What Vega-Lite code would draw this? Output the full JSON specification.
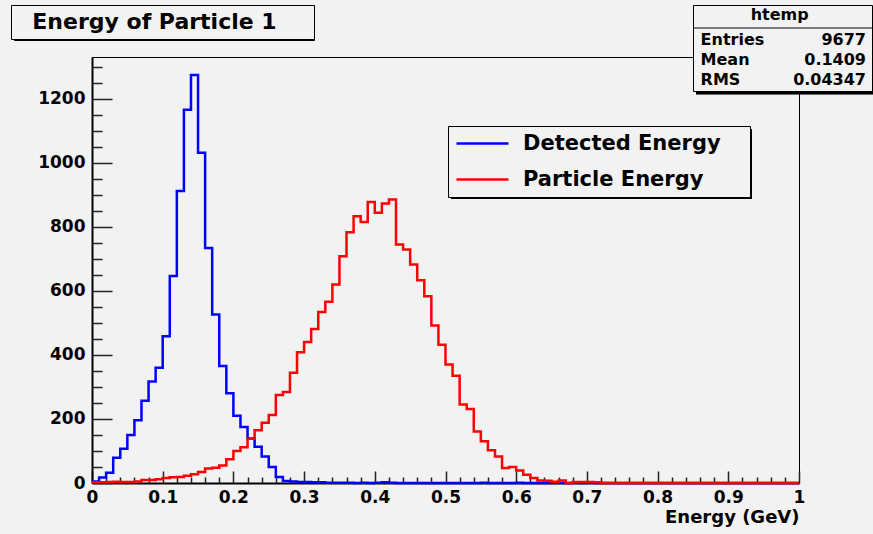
{
"$schema": "https://vega.github.io/schema/vega-lite/v6.json",
"width": 707, "height": 426, "autosize": "none",
"padding": {"left": 92, "top": 57, "right": 74, "bottom": 51},
"background": "#f2f2f2",
"config": {
  "font": "DejaVu Sans",
  "view": {"stroke": "#000000", "strokeWidth": 1},
  "axis": {"labelFont": "DejaVu Sans", "labelFontSize": 17, "labelFontWeight": "bold", "labelColor": "#000000", "grid": false, "tickColor": "#222222", "tickWidth": 1.5, "domainColor": "#000000", "labelOverlap": false, "labelFlush": false},
  "legend": {"labelFont": "DejaVu Sans", "labelFontWeight": "bold", "labelColor": "#000000", "labelLimit": 600, "titleLimit": 600}
},
"datasets": {
"hist": [
{"energy":0.00,"count":5,"series":"Detected Energy"},{"energy":0.01,"count":17,"series":"Detected Energy"},{"energy":0.02,"count":32,"series":"Detected Energy"},{"energy":0.03,"count":79,"series":"Detected Energy"},{"energy":0.04,"count":107,"series":"Detected Energy"},{"energy":0.05,"count":150,"series":"Detected Energy"},{"energy":0.06,"count":196,"series":"Detected Energy"},{"energy":0.07,"count":257,"series":"Detected Energy"},{"energy":0.08,"count":317,"series":"Detected Energy"},{"energy":0.09,"count":360,"series":"Detected Energy"},
{"energy":0.10,"count":458,"series":"Detected Energy"},{"energy":0.11,"count":646,"series":"Detected Energy"},{"energy":0.12,"count":912,"series":"Detected Energy"},{"energy":0.13,"count":1165,"series":"Detected Energy"},{"energy":0.14,"count":1274,"series":"Detected Energy"},{"energy":0.15,"count":1031,"series":"Detected Energy"},{"energy":0.16,"count":734,"series":"Detected Energy"},{"energy":0.17,"count":526,"series":"Detected Energy"},{"energy":0.18,"count":365,"series":"Detected Energy"},{"energy":0.19,"count":280,"series":"Detected Energy"},
{"energy":0.20,"count":210,"series":"Detected Energy"},{"energy":0.21,"count":175,"series":"Detected Energy"},{"energy":0.22,"count":139,"series":"Detected Energy"},{"energy":0.23,"count":113,"series":"Detected Energy"},{"energy":0.24,"count":83,"series":"Detected Energy"},{"energy":0.25,"count":50,"series":"Detected Energy"},{"energy":0.26,"count":19,"series":"Detected Energy"},{"energy":0.27,"count":6,"series":"Detected Energy"},{"energy":0.28,"count":5,"series":"Detected Energy"},{"energy":0.29,"count":3,"series":"Detected Energy"},
{"energy":0.30,"count":3,"series":"Detected Energy"},{"energy":0.31,"count":2,"series":"Detected Energy"},{"energy":0.32,"count":2,"series":"Detected Energy"},{"energy":0.33,"count":1,"series":"Detected Energy"},{"energy":0.34,"count":1,"series":"Detected Energy"},{"energy":0.35,"count":1,"series":"Detected Energy"},{"energy":0.36,"count":1,"series":"Detected Energy"},{"energy":0.37,"count":0,"series":"Detected Energy"},{"energy":0.38,"count":1,"series":"Detected Energy"},{"energy":0.39,"count":0,"series":"Detected Energy"},
{"energy":0.40,"count":1,"series":"Detected Energy"},{"energy":0.41,"count":2,"series":"Detected Energy"},{"energy":0.42,"count":1,"series":"Detected Energy"},{"energy":0.43,"count":0,"series":"Detected Energy"},{"energy":0.44,"count":0,"series":"Detected Energy"},{"energy":0.45,"count":0,"series":"Detected Energy"},{"energy":0.46,"count":0,"series":"Detected Energy"},{"energy":0.47,"count":0,"series":"Detected Energy"},{"energy":0.48,"count":0,"series":"Detected Energy"},{"energy":0.49,"count":0,"series":"Detected Energy"},
{"energy":0.50,"count":0,"series":"Detected Energy"},{"energy":0.51,"count":0,"series":"Detected Energy"},{"energy":0.52,"count":0,"series":"Detected Energy"},{"energy":0.53,"count":0,"series":"Detected Energy"},{"energy":0.54,"count":0,"series":"Detected Energy"},{"energy":0.55,"count":1,"series":"Detected Energy"},{"energy":0.56,"count":0,"series":"Detected Energy"},{"energy":0.57,"count":0,"series":"Detected Energy"},{"energy":0.58,"count":0,"series":"Detected Energy"},{"energy":0.59,"count":0,"series":"Detected Energy"},
{"energy":0.60,"count":1,"series":"Detected Energy"},{"energy":0.61,"count":0,"series":"Detected Energy"},{"energy":0.62,"count":0,"series":"Detected Energy"},{"energy":0.63,"count":0,"series":"Detected Energy"},{"energy":0.64,"count":0,"series":"Detected Energy"},{"energy":0.65,"count":0,"series":"Detected Energy"},{"energy":0.66,"count":0,"series":"Detected Energy"},{"energy":0.67,"count":0,"series":"Detected Energy"},{"energy":0.68,"count":1,"series":"Detected Energy"},{"energy":0.69,"count":0,"series":"Detected Energy"},
{"energy":0.70,"count":1,"series":"Detected Energy"},{"energy":0.71,"count":0,"series":"Detected Energy"},{"energy":0.72,"count":0,"series":"Detected Energy"},{"energy":0.73,"count":0,"series":"Detected Energy"},{"energy":0.74,"count":0,"series":"Detected Energy"},{"energy":0.75,"count":0,"series":"Detected Energy"},{"energy":0.76,"count":0,"series":"Detected Energy"},{"energy":0.77,"count":0,"series":"Detected Energy"},{"energy":0.78,"count":0,"series":"Detected Energy"},{"energy":0.79,"count":0,"series":"Detected Energy"},
{"energy":0.80,"count":0,"series":"Detected Energy"},{"energy":0.81,"count":0,"series":"Detected Energy"},{"energy":0.82,"count":0,"series":"Detected Energy"},{"energy":0.83,"count":0,"series":"Detected Energy"},{"energy":0.84,"count":0,"series":"Detected Energy"},{"energy":0.85,"count":0,"series":"Detected Energy"},{"energy":0.86,"count":0,"series":"Detected Energy"},{"energy":0.87,"count":0,"series":"Detected Energy"},{"energy":0.88,"count":0,"series":"Detected Energy"},{"energy":0.89,"count":0,"series":"Detected Energy"},
{"energy":0.90,"count":0,"series":"Detected Energy"},{"energy":0.91,"count":0,"series":"Detected Energy"},{"energy":0.92,"count":0,"series":"Detected Energy"},{"energy":0.93,"count":0,"series":"Detected Energy"},{"energy":0.94,"count":0,"series":"Detected Energy"},{"energy":0.95,"count":0,"series":"Detected Energy"},{"energy":0.96,"count":0,"series":"Detected Energy"},{"energy":0.97,"count":0,"series":"Detected Energy"},{"energy":0.98,"count":0,"series":"Detected Energy"},{"energy":0.99,"count":0,"series":"Detected Energy"},
{"energy":1.00,"count":0,"series":"Detected Energy"},
{"energy":0.00,"count":2,"series":"Particle Energy"},{"energy":0.01,"count":2,"series":"Particle Energy"},{"energy":0.02,"count":3,"series":"Particle Energy"},{"energy":0.03,"count":4,"series":"Particle Energy"},{"energy":0.04,"count":3,"series":"Particle Energy"},{"energy":0.05,"count":3,"series":"Particle Energy"},{"energy":0.06,"count":5,"series":"Particle Energy"},{"energy":0.07,"count":9,"series":"Particle Energy"},{"energy":0.08,"count":9,"series":"Particle Energy"},{"energy":0.09,"count":12,"series":"Particle Energy"},
{"energy":0.10,"count":16,"series":"Particle Energy"},{"energy":0.11,"count":18,"series":"Particle Energy"},{"energy":0.12,"count":19,"series":"Particle Energy"},{"energy":0.13,"count":23,"series":"Particle Energy"},{"energy":0.14,"count":27,"series":"Particle Energy"},{"energy":0.15,"count":34,"series":"Particle Energy"},{"energy":0.16,"count":45,"series":"Particle Energy"},{"energy":0.17,"count":48,"series":"Particle Energy"},{"energy":0.18,"count":55,"series":"Particle Energy"},{"energy":0.19,"count":74,"series":"Particle Energy"},
{"energy":0.20,"count":100,"series":"Particle Energy"},{"energy":0.21,"count":112,"series":"Particle Energy"},{"energy":0.22,"count":138,"series":"Particle Energy"},{"energy":0.23,"count":165,"series":"Particle Energy"},{"energy":0.24,"count":188,"series":"Particle Energy"},{"energy":0.25,"count":212,"series":"Particle Energy"},{"energy":0.26,"count":275,"series":"Particle Energy"},{"energy":0.27,"count":284,"series":"Particle Energy"},{"energy":0.28,"count":344,"series":"Particle Energy"},{"energy":0.29,"count":408,"series":"Particle Energy"},
{"energy":0.30,"count":440,"series":"Particle Energy"},{"energy":0.31,"count":481,"series":"Particle Energy"},{"energy":0.32,"count":534,"series":"Particle Energy"},{"energy":0.33,"count":566,"series":"Particle Energy"},{"energy":0.34,"count":620,"series":"Particle Energy"},{"energy":0.35,"count":708,"series":"Particle Energy"},{"energy":0.36,"count":783,"series":"Particle Energy"},{"energy":0.37,"count":833,"series":"Particle Energy"},{"energy":0.38,"count":815,"series":"Particle Energy"},{"energy":0.39,"count":877,"series":"Particle Energy"},
{"energy":0.40,"count":844,"series":"Particle Energy"},{"energy":0.41,"count":873,"series":"Particle Energy"},{"energy":0.42,"count":885,"series":"Particle Energy"},{"energy":0.43,"count":745,"series":"Particle Energy"},{"energy":0.44,"count":729,"series":"Particle Energy"},{"energy":0.45,"count":682,"series":"Particle Energy"},{"energy":0.46,"count":633,"series":"Particle Energy"},{"energy":0.47,"count":583,"series":"Particle Energy"},{"energy":0.48,"count":492,"series":"Particle Energy"},{"energy":0.49,"count":432,"series":"Particle Energy"},
{"energy":0.50,"count":370,"series":"Particle Energy"},{"energy":0.51,"count":335,"series":"Particle Energy"},{"energy":0.52,"count":245,"series":"Particle Energy"},{"energy":0.53,"count":231,"series":"Particle Energy"},{"energy":0.54,"count":161,"series":"Particle Energy"},{"energy":0.55,"count":130,"series":"Particle Energy"},{"energy":0.56,"count":102,"series":"Particle Energy"},{"energy":0.57,"count":83,"series":"Particle Energy"},{"energy":0.58,"count":47,"series":"Particle Energy"},{"energy":0.59,"count":50,"series":"Particle Energy"},
{"energy":0.60,"count":39,"series":"Particle Energy"},{"energy":0.61,"count":26,"series":"Particle Energy"},{"energy":0.62,"count":16,"series":"Particle Energy"},{"energy":0.63,"count":8,"series":"Particle Energy"},{"energy":0.64,"count":7,"series":"Particle Energy"},{"energy":0.65,"count":4,"series":"Particle Energy"},{"energy":0.66,"count":8,"series":"Particle Energy"},{"energy":0.67,"count":0,"series":"Particle Energy"},{"energy":0.68,"count":3,"series":"Particle Energy"},{"energy":0.69,"count":3,"series":"Particle Energy"},
{"energy":0.70,"count":3,"series":"Particle Energy"},{"energy":0.71,"count":2,"series":"Particle Energy"},{"energy":0.72,"count":0,"series":"Particle Energy"},{"energy":0.73,"count":0,"series":"Particle Energy"},{"energy":0.74,"count":0,"series":"Particle Energy"},{"energy":0.75,"count":0,"series":"Particle Energy"},{"energy":0.76,"count":0,"series":"Particle Energy"},{"energy":0.77,"count":0,"series":"Particle Energy"},{"energy":0.78,"count":0,"series":"Particle Energy"},{"energy":0.79,"count":0,"series":"Particle Energy"},
{"energy":0.80,"count":0,"series":"Particle Energy"},{"energy":0.81,"count":0,"series":"Particle Energy"},{"energy":0.82,"count":0,"series":"Particle Energy"},{"energy":0.83,"count":0,"series":"Particle Energy"},{"energy":0.84,"count":0,"series":"Particle Energy"},{"energy":0.85,"count":0,"series":"Particle Energy"},{"energy":0.86,"count":0,"series":"Particle Energy"},{"energy":0.87,"count":0,"series":"Particle Energy"},{"energy":0.88,"count":0,"series":"Particle Energy"},{"energy":0.89,"count":0,"series":"Particle Energy"},
{"energy":0.90,"count":0,"series":"Particle Energy"},{"energy":0.91,"count":0,"series":"Particle Energy"},{"energy":0.92,"count":0,"series":"Particle Energy"},{"energy":0.93,"count":0,"series":"Particle Energy"},{"energy":0.94,"count":0,"series":"Particle Energy"},{"energy":0.95,"count":0,"series":"Particle Energy"},{"energy":0.96,"count":0,"series":"Particle Energy"},{"energy":0.97,"count":0,"series":"Particle Energy"},{"energy":0.98,"count":0,"series":"Particle Energy"},{"energy":0.99,"count":0,"series":"Particle Energy"},
{"energy":1.00,"count":0,"series":"Particle Energy"}
],
"stats": [{"stat":"Entries","val":"9677"},{"stat":"Mean","val":"0.1409"},{"stat":"RMS","val":"0.04347"}],
"head": [{"name":"htemp"}],
"ttl": [{"title":"Energy of Particle 1"}]
},
"layer": [
{
  "data": {"name": "hist"},
  "mark": {"type": "line", "interpolate": "step-after", "strokeWidth": 2.5},
  "encoding": {
    "x": {"field": "energy", "type": "quantitative", "scale": {"domain": [0, 1], "nice": false, "zero": false},
      "axis": {"orient": "bottom", "values": [0,0.1,0.2,0.3,0.4,0.5,0.6,0.7,0.8,0.9,1], "format": "~g", "ticks": false, "domain": true, "domainWidth": 2, "labelPadding": 6,
        "title": "Energy (GeV)", "titleFont": "DejaVu Sans", "titleFontSize": 18, "titleFontWeight": "bold", "titleColor": "#000000", "titleAnchor": "end", "titlePadding": 3}},
    "y": {"field": "count", "type": "quantitative", "scale": {"domain": [0, 1330], "nice": false},
      "axis": {"orient": "left", "values": [0,200,400,600,800,1000,1200], "format": "d", "ticks": false, "domain": true, "domainWidth": 2, "labelPadding": 7, "title": null}},
    "color": {"field": "series", "type": "nominal", "scale": {"domain": ["Detected Energy", "Particle Energy"], "range": ["#0000ff", "#ff0000"]},
      "legend": {"orient": "none", "legendX": 356, "legendY": 69, "zindex": 2, "title": null, "padding": 7, "fillColor": "#f2f2f2", "strokeColor": "#000000",
        "symbolType": "stroke", "symbolSize": 2704, "symbolStrokeWidth": 2.5, "labelOffset": 13, "clipHeight": 21, "rowPadding": 14,
        "labelFontSize": 21, "labelExpr": "datum.label + '\u00a0\u00a0\u00a0\u200b'"}}
  }
},
{
  "data": {"name": "hist"},
  "mark": {"type": "point", "opacity": 0},
  "encoding": {
    "x": {"field": "energy", "type": "quantitative", "scale": {"domain": [0, 1], "nice": false, "zero": false},
      "axis": {"orient": "bottom", "values": [0,0.1,0.2,0.3,0.4,0.5,0.6,0.7,0.8,0.9,1], "tickSize": -12, "labels": false, "domain": false, "title": null}},
    "y": {"field": "count", "type": "quantitative", "scale": {"domain": [0, 1330], "nice": false},
      "axis": {"orient": "left", "values": [0,200,400,600,800,1000,1200], "tickSize": -20, "labels": false, "domain": false, "title": null}}
  }
},
{
  "data": {"name": "hist"},
  "mark": {"type": "point", "opacity": 0},
  "encoding": {
    "x": {"field": "energy", "type": "quantitative", "scale": {"domain": [0, 1], "nice": false, "zero": false},
      "axis": {"orient": "bottom", "values": [0.02,0.04,0.06,0.08,0.12,0.14,0.16,0.18,0.22,0.24,0.26,0.28,0.32,0.34,0.36,0.38,0.42,0.44,0.46,0.48,0.52,0.54,0.56,0.58,0.62,0.64,0.66,0.68,0.72,0.74,0.76,0.78,0.82,0.84,0.86,0.88,0.92,0.94,0.96,0.98], "tickSize": -6, "labels": false, "domain": false, "title": null}},
    "y": {"field": "count", "type": "quantitative", "scale": {"domain": [0, 1330], "nice": false},
      "axis": {"orient": "left", "values": [50,100,150,250,300,350,450,500,550,650,700,750,850,900,950,1050,1100,1150,1250,1300], "tickSize": -10, "labels": false, "domain": false, "title": null}}
  }
},
{
  "data": {"name": "hist"},
  "mark": {"type": "point", "filled": true, "color": "#000000", "opacity": 0},
  "encoding": {
    "size": {"field": "series", "type": "ordinal", "scale": {"range": [90601, 90601]},
      "legend": {"orient": "none", "legendX": 359, "legendY": 72, "zindex": 1, "title": null, "padding": 0,
        "symbolType": "M-1,-0.1163H1V0.1163H-1Z", "symbolOpacity": 1, "symbolFillColor": "#000000", "symbolStrokeWidth": 0,
        "labelOffset": 0, "clipHeight": 35, "rowPadding": 0, "labelFontSize": 1, "labelExpr": "''"}}
  }
},
{
  "data": {"name": "ttl"},
  "mark": {"type": "point", "filled": true, "color": "#000000", "opacity": 0},
  "encoding": {
    "fill": {"field": "title", "type": "nominal", "scale": {"domain": ["Energy of Particle 1"]},
      "legend": {"orient": "none", "legendX": -81, "legendY": -52, "zindex": 2, "title": null, "padding": 6, "fillColor": "#f2f2f2", "strokeColor": "#000000",
        "symbolSize": 0, "symbolOpacity": 0, "symbolStrokeWidth": 0, "labelOffset": -22, "clipHeight": 21,
        "labelFontSize": 22, "labelExpr": "'\u200b\u00a0\u00a0' + datum.label + '\u00a0\u00a0\u00a0\u00a0\u200b'"}},
    "strokeWidth": {"field": "title", "type": "ordinal", "scale": {"range": [0.5, 0.5]},
      "legend": {"orient": "none", "legendX": -78, "legendY": -49, "zindex": 1, "title": null, "padding": 0,
        "symbolType": "M-1,-0.11H1V0.11H-1Z", "symbolSize": 90000, "symbolOpacity": 1, "symbolFillColor": "#000000", "symbolStrokeColor": "#000000",
        "labelOffset": 0, "clipHeight": 33, "labelFontSize": 1, "labelExpr": "''"}}
  }
},
{
  "data": {"name": "head"},
  "mark": {"type": "point", "opacity": 0},
  "encoding": {
    "stroke": {"field": "name", "type": "nominal", "scale": {"range": ["#000000"]},
      "legend": {"orient": "none", "legendX": 601, "legendY": -30, "zindex": 3, "title": null, "padding": 0,
        "symbolType": "stroke", "symbolSize": 32400, "symbolStrokeWidth": 1, "symbolOpacity": 1,
        "labelOffset": 0, "clipHeight": 2, "labelFontSize": 1, "labelExpr": "''"}}
  }
},
{
  "data": {"name": "stats"},
  "mark": {"type": "point", "filled": true, "color": "#000000", "size": 0},
  "encoding": {
    "opacity": {"field": "stat", "type": "ordinal", "scale": {"range": [1, 1]},
      "legend": {"orient": "none", "legendX": 604, "legendY": -49, "zindex": 1, "title": null, "padding": 0,
        "symbolType": "M-1,-0.1584H1V0.1584H-1Z", "symbolSize": 32761, "symbolFillColor": "#000000", "symbolStrokeWidth": 0,
        "labelOffset": 0, "clipHeight": 28.67, "rowPadding": 0, "labelFontSize": 1, "labelExpr": "''"}}
  }
},
{
  "data": {"name": "stats"},
  "mark": {"type": "point", "opacity": 0},
  "encoding": {
    "shape": {"field": "stat", "type": "nominal", "scale": {"domain": ["Entries", "Mean", "RMS"]},
      "legend": {"orient": "none", "legendX": 601, "legendY": -52, "zindex": 2,
        "title": "\u200b\u00a0\u00a0\u00a0\u00a0\u00a0\u00a0\u00a0\u00a0\u00a0\u00a0htemp\u00a0\u00a0\u00a0\u00a0\u00a0\u00a0\u00a0\u00a0\u00a0\u00a0\u00a0\u200b",
        "titleFont": "DejaVu Sans", "titleFontSize": 16, "titleFontWeight": "bold", "titleColor": "#000000", "titlePadding": 7,
        "padding": 2, "fillColor": "#f2f2f2", "strokeColor": "#000000",
        "symbolSize": 0, "symbolOpacity": 0, "symbolStrokeWidth": 0, "labelOffset": -16, "clipHeight": 19, "rowPadding": 1,
        "labelFontSize": 16, "labelExpr": "'\u200b\u00a0' + datum.label"}}
  }
},
{
  "data": {"name": "stats"},
  "mark": {"type": "point", "opacity": 0},
  "encoding": {
    "strokeDash": {"field": "val", "type": "nominal", "scale": {"domain": ["9677", "0.1409", "0.04347"]},
      "legend": {"orient": "none", "legendX": 772, "legendY": -29, "zindex": 3, "title": null, "padding": 2,
        "symbolSize": 0, "symbolOpacity": 0, "symbolStrokeWidth": 0, "labelOffset": -16, "clipHeight": 19, "rowPadding": 1,
        "labelFontSize": 16, "labelAlign": "right"}}
  }
}
],
"resolve": {"axis": {"x": "independent", "y": "independent"}}
}
